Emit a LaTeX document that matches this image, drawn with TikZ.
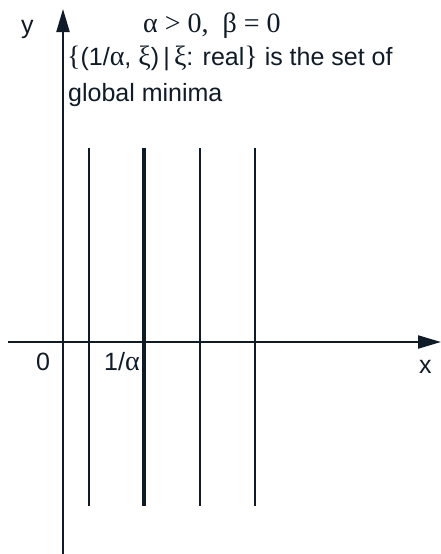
\documentclass[tikz,border=0pt]{standalone}
\usepackage{fontspec}
\setmainfont{Liberation Sans}
\newfontfamily\gr{Liberation Serif}[Scale=1.12]
\usetikzlibrary{arrows.meta}
\definecolor{ink}{HTML}{0F1B26}
\begin{document}
\begin{tikzpicture}[x=1pt,y=-1pt,
  axis/.style={draw=ink,line width=2.2pt,-{Triangle[length=23pt,width=13pt]}},
  thinline/.style={draw=ink,line width=2pt},
  thickline/.style={draw=ink,line width=3.4pt},
  lbl/.style={font=\fontsize{25}{30}\selectfont,text=ink,inner sep=0pt}]
\useasboundingbox (0,0) rectangle (441,554);
\coordinate (ybot) at (63,554);
\coordinate (ytop) at (63,9);
\coordinate (xl) at (8,342);
\coordinate (xr) at (441,342);
\draw[axis] (ybot) -- (ytop);
\draw[axis] (xl) -- (xr);
\foreach \n/\xx/\st in {a/88.5/thinline,b/144/thickline,c/199.5/thinline,d/254.5/thinline}{
  \coordinate (\n t) at (\xx,148);
  \coordinate (\n b) at (\xx,506);
  \draw[\st] (\n t) -- (\n b);
}
\node[lbl,anchor=base west] (ylab) at (21,33) {y};
\node[lbl,anchor=base west] (xlab) at (419,373) {x};
\node[lbl,anchor=base west] (zero) at (36,370) {0};
\node[lbl,anchor=base west] (inv) at (104,370) {1/{\gr α}};
\node[lbl,anchor=base west] (cond) at (143,32) {\gr α > 0,\ \ β = 0};
\node[lbl,anchor=base west] (l2) at (67,65) {{\gr\{}(1/{\gr α}, {\gr ξ})\,|\,{\gr ξ}: real{\gr\}} is the set of};
\node[lbl,anchor=base west] (l3) at (68,101) {global minima};
\end{tikzpicture}
\end{document}
